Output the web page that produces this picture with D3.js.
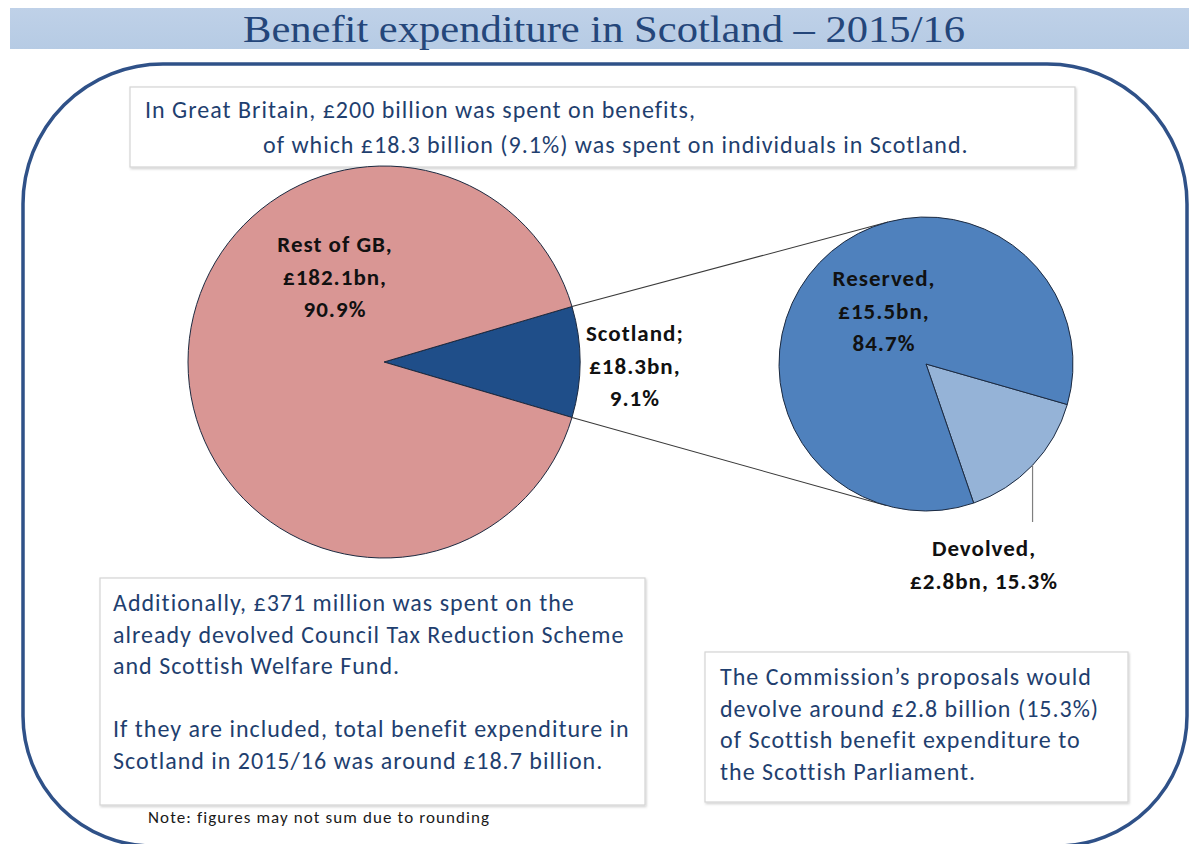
<!DOCTYPE html>
<html>
<head>
<meta charset="utf-8">
<script src="https://cdn.jsdelivr.net/npm/d3@7"></script>
<style>
  body { margin: 0; background: #ffffff; }
  svg { display: block; }
</style>
</head>
<body>
<svg id="chart" width="1189" height="844"></svg>
<script>
// ---- data ----
const gbCategories = ["Scotland", "Rest of GB"];
const gbValues = [18.3, 182.1];
const gbLabels = [["Scotland;", "£18.3bn,", "9.1%"], ["Rest of GB,", "£182.1bn,", "90.9%"]];

const scotCategories = ["Devolved", "Reserved"];
const scotValues = [2.8, 15.5];
const scotLabels = [["Devolved,", "£2.8bn, 15.3%"], ["Reserved,", "£15.5bn,", "84.7%"]];

const titleText = "Benefit expenditure in Scotland – 2015/16";
const headerLines = [
  "In Great Britain, £200 billion was spent on benefits,",
  "of which £18.3 billion (9.1%) was spent on individuals in Scotland."
];
const leftNoteLines = [
  "Additionally, £371 million was spent on the",
  "already devolved Council Tax Reduction Scheme",
  "and Scottish Welfare Fund.",
  "",
  "If they are included, total benefit expenditure in",
  "Scotland in 2015/16 was around £18.7 billion."
];
const rightNoteLines = [
  "The Commission’s proposals would",
  "devolve around £2.8 billion (15.3%)",
  "of Scottish benefit expenditure to",
  "the Scottish Parliament."
];
const footnote = "Note: figures may not sum due to rounding";

// ---- styles ----
const bodyFont = "Carlito, Lato, 'Open Sans', sans-serif";
const textBlue = "#1f3f6f";
const colors = {
  "Scotland": "#1f4e89",
  "Rest of GB": "#d99694",
  "Reserved": "#4f81bd",
  "Devolved": "#95b3d7"
};

const svg = d3.select("#chart");

// title band
const defs = svg.append("defs");
const grad = defs.append("linearGradient").attr("id", "band").attr("x1", 0).attr("x2", 0).attr("y1", 0).attr("y2", 1);
grad.append("stop").attr("offset", "0%").attr("stop-color", "#bfd1e8");
grad.append("stop").attr("offset", "100%").attr("stop-color", "#b6cbe4");
const shadow = defs.append("filter").attr("id", "boxShadow").attr("x", "-5%").attr("y", "-5%").attr("width", "110%").attr("height", "120%");
shadow.append("feDropShadow").attr("dx", 1).attr("dy", 1.5).attr("stdDeviation", 1.2).attr("flood-color", "#000").attr("flood-opacity", 0.18);

svg.append("rect").attr("x", 10).attr("y", 8).attr("width", 1179).attr("height", 41).attr("fill", "url(#band)");
svg.append("text")
  .attr("x", 604).attr("y", 42)
  .attr("text-anchor", "middle")
  .attr("font-family", "'Liberation Serif', 'DejaVu Serif', serif")
  .attr("font-size", 38)
  .attr("fill", "#24467a")
  .attr("textLength", 722)
  .attr("lengthAdjust", "spacingAndGlyphs")
  .text(titleText);

// rounded outer frame
(function frame() {
  const x0 = 23, y0 = 64, x1 = 1187, y1 = 846, rt = 140, rb = 130;
  const p = d3.path();
  p.moveTo(x0 + rt, y0);
  p.lineTo(x1 - rt, y0);
  p.arcTo(x1, y0, x1, y0 + rt, rt);
  p.lineTo(x1, y1 - rb);
  p.arcTo(x1, y1, x1 - rb, y1, rb);
  p.lineTo(x0 + rb, y1);
  p.arcTo(x0, y1, x0, y1 - rb, rb);
  p.lineTo(x0, y0 + rt);
  p.arcTo(x0, y0, x0 + rt, y0, rt);
  p.closePath();
  svg.append("path").attr("d", p.toString())
    .attr("fill", "none").attr("stroke", "#2f5188").attr("stroke-width", 3.5);
})();

// text boxes
function textBox(x, y, w, h, lines, tx, ty, lineH, size, indents) {
  svg.append("rect").attr("x", x).attr("y", y).attr("width", w).attr("height", h)
    .attr("fill", "#ffffff").attr("stroke", "#d4d4d4").attr("stroke-width", 1.2)
    .attr("filter", "url(#boxShadow)");
  svg.append("g").selectAll("text").data(lines).join("text")
    .attr("x", (d, i) => tx + (indents ? indents[i] : 0))
    .attr("y", (d, i) => ty + i * lineH)
    .attr("font-family", bodyFont)
    .attr("font-size", size)
    .attr("letter-spacing", 1)
    .attr("fill", textBlue)
    .text(d => d);
}

textBox(130, 87, 945, 80, headerLines, 145, 118, 35, 24, [0, 118]);
textBox(100, 578, 545, 227, leftNoteLines, 113, 611, 31.5, 24);
textBox(705, 652, 423, 150, rightNoteLines, 720, 685, 31.5, 24);

svg.append("text").attr("x", 148).attr("y", 823)
  .attr("font-family", bodyFont).attr("font-size", 17).attr("letter-spacing", 1.1)
  .attr("fill", "#1a1a1a")
  .text(footnote);

// ---- main pie: Great Britain ----
const gbCx = 384, gbCy = 362, gbR = 196;
const gbTotal = d3.sum(gbValues);
const scotHalf = Math.PI * gbValues[0] / gbTotal;
const gbPie = d3.pie().sort(null)
  .startAngle(Math.PI / 2 - scotHalf)
  .endAngle(Math.PI / 2 - scotHalf + 2 * Math.PI);
const gbArcs = gbPie(gbValues);
const gbArc = d3.arc().innerRadius(0).outerRadius(gbR);

const gbG = svg.append("g").attr("transform", `translate(${gbCx},${gbCy})`);
gbG.selectAll("path").data(gbArcs).join("path")
  .attr("d", gbArc)
  .attr("fill", (d, i) => colors[gbCategories[i]])
  .attr("stroke", "#1c2a40").attr("stroke-width", 1);

// ---- second pie: split of Scotland ----
const scCx = 926, scCy = 364, scR = 147;
const devStart = 106 * Math.PI / 180;
const scPie = d3.pie().sort(null).startAngle(devStart).endAngle(devStart + 2 * Math.PI);
const scArcs = scPie(scotValues);
const scArc = d3.arc().innerRadius(0).outerRadius(scR);

// connector lines from the Scotland slice to tangents of the second pie
function polar(cx, cy, r, a) { return [cx + r * Math.sin(a), cy - r * Math.cos(a)]; }
const scotArc = gbArcs[0];
const ends = [scotArc.startAngle, scotArc.endAngle].map(a => polar(gbCx, gbCy, gbR, a));
function tangentPoint(p, upper) {
  const dx = p[0] - scCx, dy = p[1] - scCy;
  const d = Math.hypot(dx, dy);
  const base = Math.atan2(dy, dx);
  const off = Math.acos(scR / d);
  const a = upper ? base + off : base - off;
  return [scCx + scR * Math.cos(a), scCy + scR * Math.sin(a)];
}
const connG = svg.append("g");
[[ends[0], true], [ends[1], false]].forEach(([p, up]) => {
  const t = tangentPoint(p, up);
  connG.append("line")
    .attr("x1", p[0]).attr("y1", p[1]).attr("x2", t[0]).attr("y2", t[1])
    .attr("stroke", "#3a3a3a").attr("stroke-width", 1.1);
});

const scG = svg.append("g").attr("transform", `translate(${scCx},${scCy})`);
scG.selectAll("path").data(scArcs).join("path")
  .attr("d", scArc)
  .attr("fill", (d, i) => colors[scotCategories[i]])
  .attr("stroke", "#1c2a40").attr("stroke-width", 1);

// ---- labels ----
const labelFont = { family: bodyFont, size: 23, weight: "bold" };
function multiLabel(x, y, lines, lineH) {
  const t = svg.append("text")
    .attr("text-anchor", "middle")
    .attr("font-family", labelFont.family)
    .attr("font-size", labelFont.size)
    .attr("font-weight", labelFont.weight)
    .attr("letter-spacing", 1)
    .attr("fill", "#111111");
  lines.forEach((s, i) => {
    t.append("tspan").attr("x", x).attr("y", y + i * lineH).text(s);
  });
}

// Rest of GB label sits in the upper-left of its slice
multiLabel(gbCx - 49, 252, gbLabels[1], 32.5);

// Scotland label just outside its slice
const scotLabelPos = d3.arc().innerRadius(gbR * 1.28).outerRadius(gbR * 1.28).centroid(scotArc);
multiLabel(gbCx + scotLabelPos[0], 341, gbLabels[0], 32.5);

// Reserved label inside the larger slice
multiLabel(scCx - 42, 286, scotLabels[1], 32.5);

// Devolved label below the pie, with a leader from the slice edge
const devMid = (scArcs[0].startAngle + scArcs[0].endAngle) / 2;
const devEdge = polar(scCx, scCy, scR, devMid);
svg.append("line")
  .attr("x1", devEdge[0]).attr("y1", devEdge[1])
  .attr("x2", devEdge[0]).attr("y2", 522)
  .attr("stroke", "#7f7f7f").attr("stroke-width", 1.2);
multiLabel(984, 556, scotLabels[0], 32.5);
</script>
</body>
</html>
